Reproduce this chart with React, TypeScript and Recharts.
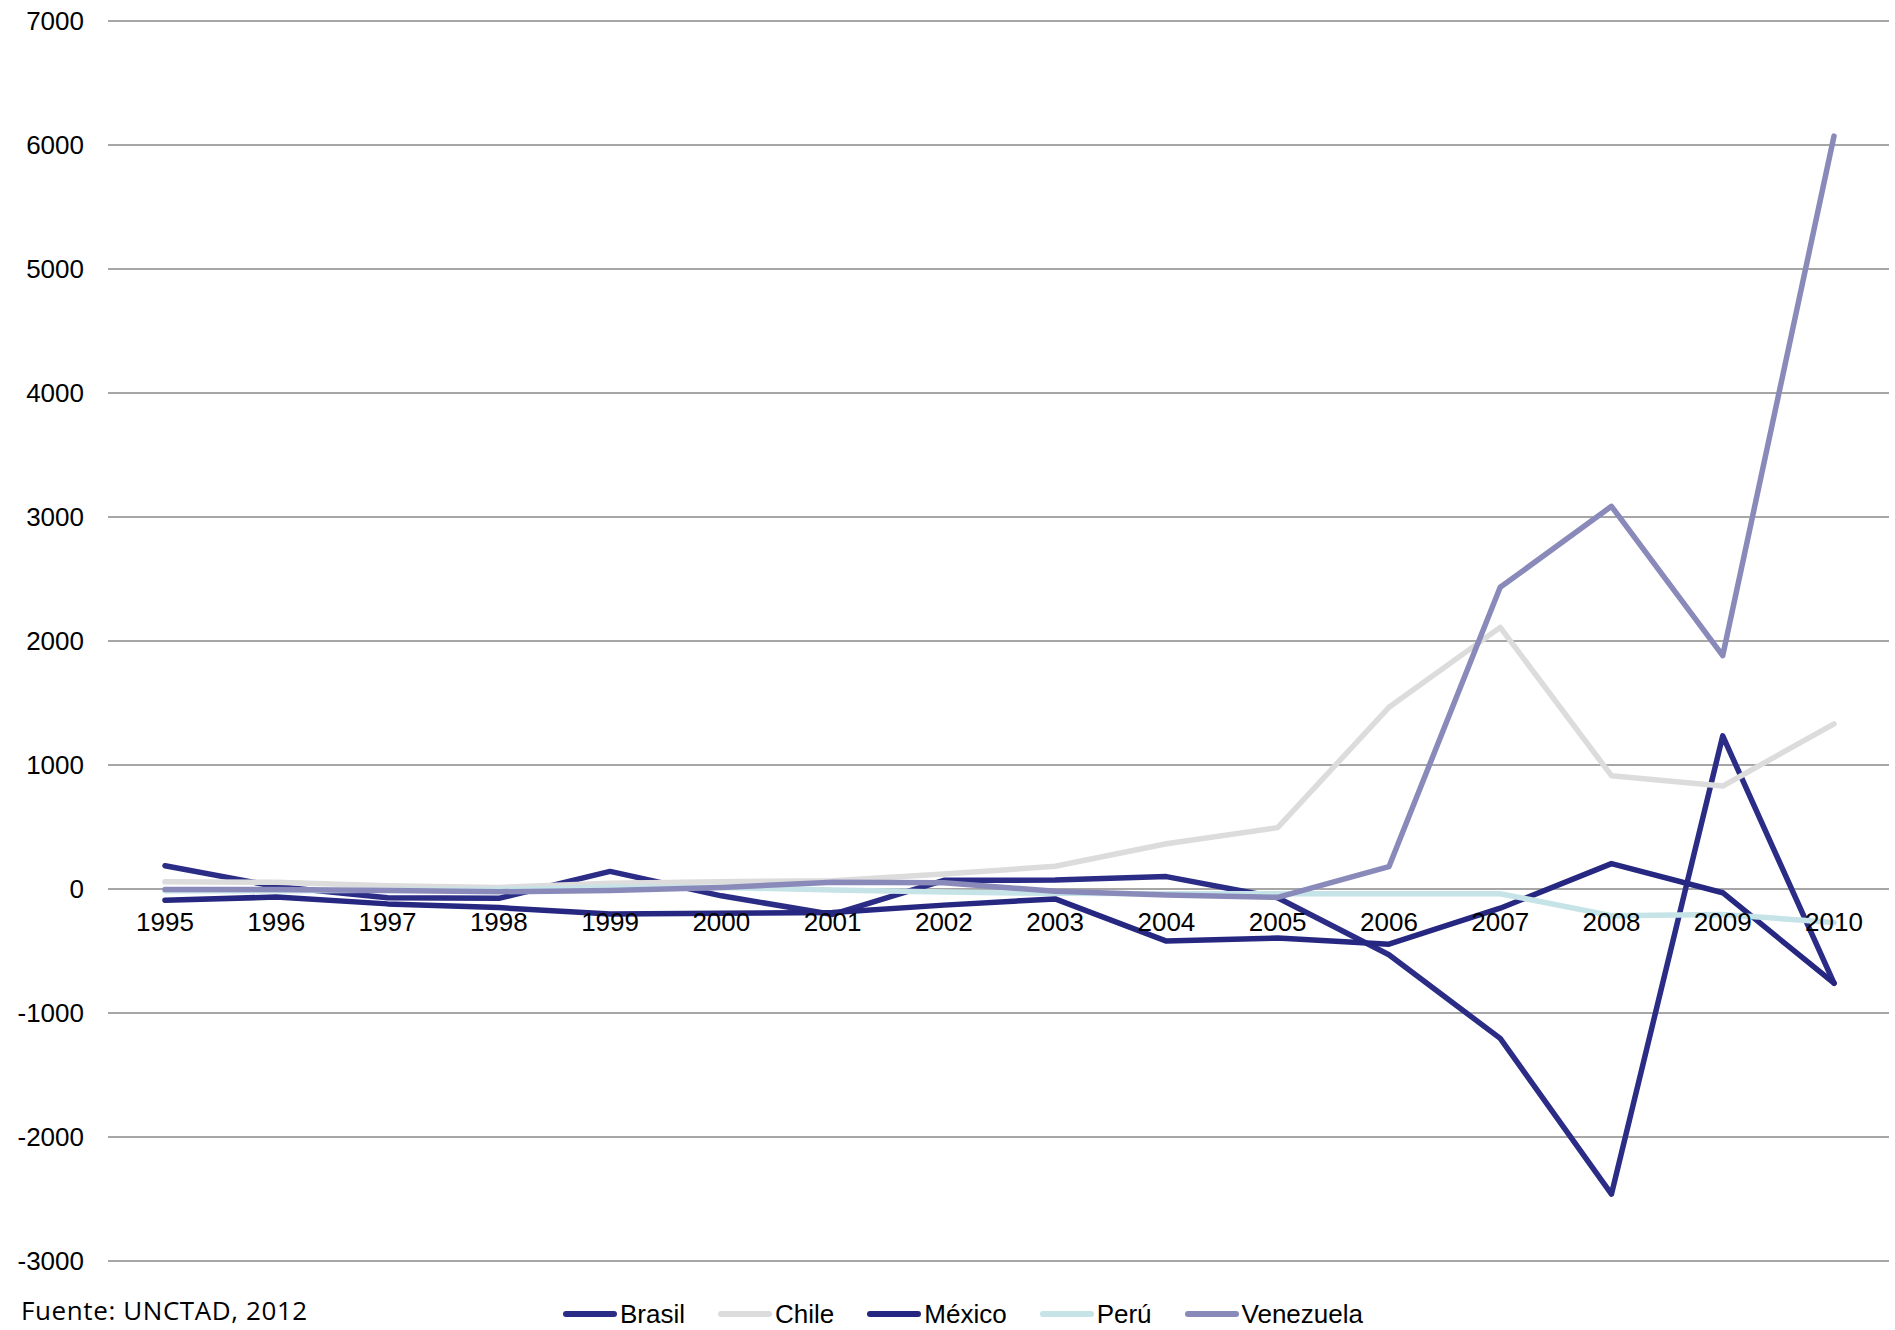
import { LineChart, Line, XAxis, YAxis, CartesianGrid } from "recharts"

const years = ["1995", "1996", "1997", "1998", "1999", "2000", "2001", "2002", "2003", "2004", "2005", "2006", "2007", "2008", "2009", "2010"]
const brasil = [188, 20, -70, -75, 142, -55, -205, 70, 72, 100, -70, -530, -1205, -2460, 1235, -760]
const chile = [59, 54, 27, 13, 46, 59, 66, 120, 183, 365, 495, 1465, 2110, 914, 830, 1332]
const mexico = [-90, -65, -120, -150, -202, -195, -190, -130, -80, -420, -395, -445, -155, 205, -30, -760]
const peru = [-15, -15, -10, -5, 15, 13, -8, -25, -35, -38, -38, -38, -38, -215, -205, -270]
const venezuela = [-5, -5, -13, -22, -13, 13, 54, 50, -19, -48, -67, 180, 2433, 3086, 1882, 6072]
const yTicks = [-3000, -2000, -1000, 0, 1000, 2000, 3000, 4000, 5000, 6000, 7000]

const series = [
  { key: "Brasil", values: brasil, color: "#2B2C86" },
  { key: "Chile", values: chile, color: "#DCDCDC" },
  { key: "México", values: mexico, color: "#262780" },
  { key: "Perú", values: peru, color: "#C6E4E8" },
  { key: "Venezuela", values: venezuela, color: "#8A8ABA" },
]

const data = years.map((year, i) => {
  const row: any = { year }
  series.forEach((s) => (row[s.key] = s.values[i]))
  return row
})

const W = 1895
const H = 1330
const TOP = 21
const PLOT_BOTTOM = 1261
const Y_MIN = -3000
const Y_MAX = 7000
const ZERO_Y = TOP + ((PLOT_BOTTOM - TOP) * Y_MAX) / (Y_MAX - Y_MIN)
const FONT = "'Liberation Sans', Arial, sans-serif"

function YearTick({ x, payload }: any) {
  return (
    <text x={x} y={ZERO_Y + 42} textAnchor="middle" fontSize={26} fontFamily={FONT} fill="#000">
      {payload.value}
    </text>
  )
}

function ChartLegend() {
  return (
    <div
      style={{
        position: "absolute",
        left: 563,
        top: 1299,
        display: "flex",
        alignItems: "center",
        fontFamily: FONT,
        fontSize: 26,
        lineHeight: "30px",
        color: "#000",
      }}
    >
      {series.map((s) => (
        <div key={s.key} style={{ display: "flex", alignItems: "center", marginRight: 33 }}>
          <svg width={54} height={10} style={{ marginRight: 3 }}>
            <line x1={3} y1={5} x2={51} y2={5} stroke={s.color} strokeWidth={6} strokeLinecap="round" />
          </svg>
          <span>{s.key}</span>
        </div>
      ))}
    </div>
  )
}

export default function App() {
  return (
    <div style={{ position: "fixed", left: 0, top: 0, width: W, height: H, overflow: "hidden", background: "#fff" }}>
      <LineChart width={W} height={H} data={data} margin={{ top: TOP, right: 6, bottom: 39, left: 0 }}>
        <CartesianGrid vertical={false} stroke="#888888" strokeWidth={1.5} />
        <XAxis
          dataKey="year"
          interval={0}
          height={30}
          axisLine={false}
          tickLine={false}
          padding={{ left: 57, right: 55 }}
          tick={<YearTick />}
        />
        <YAxis
          width={108}
          domain={[Y_MIN, Y_MAX]}
          ticks={yTicks}
          interval={0}
          axisLine={false}
          tickLine={false}
          tickSize={0}
          tickMargin={24}
          tick={{ fontSize: 26, fontFamily: FONT, fill: "#000" }}
        />
        {series.map((s) => (
          <Line
            key={s.key}
            dataKey={s.key}
            stroke={s.color}
            strokeWidth={5.5}
            strokeLinejoin="round"
            strokeLinecap="round"
            dot={false}
            activeDot={false}
            type="linear"
            isAnimationActive={false}
          />
        ))}
      </LineChart>
      <ChartLegend />
      <div
        style={{
          position: "absolute",
          left: 21,
          top: 1297,
          fontFamily: "'Open Sans', sans-serif",
          fontSize: 26,
          letterSpacing: 0.6,
          lineHeight: 1,
          color: "#000",
          whiteSpace: "nowrap",
        }}
      >
        Fuente: UNCTAD, 2012
      </div>
    </div>
  )
}
